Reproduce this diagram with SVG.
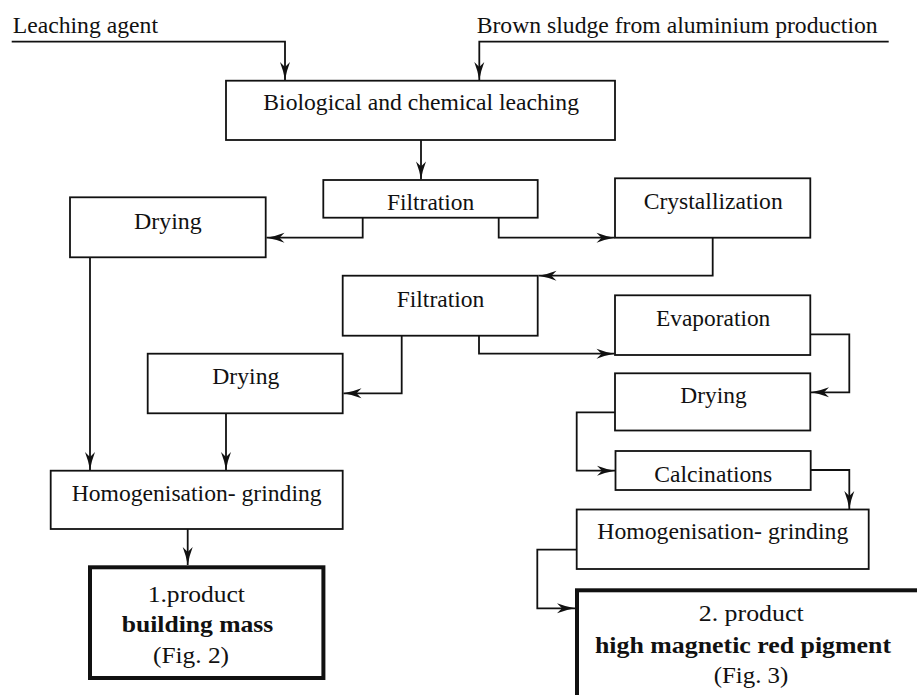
<svg xmlns="http://www.w3.org/2000/svg" width="917" height="695" viewBox="0 0 917 695" font-family="'Liberation Serif', 'Times New Roman', Times, serif">
<style>
.box{fill:#fff;stroke:#111;stroke-width:1.8}
.thick{fill:#fff;stroke:#111;stroke-width:4}
text{font-family:'Liberation Serif','Times New Roman',Times,serif;font-size:23px;fill:#111}
.b{font-weight:bold}
.c{fill:none;stroke:#111;stroke-width:1.8;marker-end:url(#arr)}
</style>
<defs>
<marker id="arr" viewBox="-20 -6 21 12" refX="0" refY="0" markerWidth="21" markerHeight="12" markerUnits="userSpaceOnUse" orient="auto">
<path d="M0,0 Q-9,-1.5 -18,-5 L-13,0 L-18,5 Q-9,1.5 0,0Z" fill="#111"/>
</marker>
</defs>
<rect width="917" height="695" fill="#fff"/>
<g id="inputs">
<text x="12.7" y="33" textLength="145.3" lengthAdjust="spacingAndGlyphs">Leaching agent</text>
<text x="476.7" y="33" textLength="401" lengthAdjust="spacingAndGlyphs">Brown sludge from aluminium production</text>
</g>
<g id="connectors">
<path class="c" d="M11.7,41.7 H285 V80"/>
<path class="c" d="M888.7,41.7 H479.3 V80"/>
<path class="c" d="M421,140 V179.5"/>
<path class="c" d="M362.7,217.7 V237.7 H266.5"/>
<path class="c" d="M498.7,217.7 V237.7 H614.5"/>
<path class="c" d="M712.7,237.7 V275.7 H538.5"/>
<path class="c" d="M90,257.3 V470"/>
<path class="c" d="M401.7,335.7 V393.3 H343.5"/>
<path class="c" d="M479,335.7 V353.7 H614.5"/>
<path class="c" d="M226,413.3 V470"/>
<path class="c" d="M810.3,334.3 H849.3 V392.3 H811"/>
<path class="c" d="M615,412.3 H576.7 V470.7 H615"/>
<path class="c" d="M810.7,470 H849.3 V509"/>
<path class="c" d="M187.7,529 V565"/>
<path class="c" d="M576.7,549.7 H537.3 V608.3 H575"/>
</g>
<g id="leaching">
<rect class="box" x="226" y="80.7" width="389" height="59.3"/>
<text x="263.3" y="110" textLength="315.7" lengthAdjust="spacingAndGlyphs">Biological and chemical leaching</text>
</g>
<g id="filtration1">
<rect class="box" x="323.3" y="180" width="214.4" height="37.7"/>
<text x="387" y="209.5" textLength="87.3" lengthAdjust="spacingAndGlyphs">Filtration</text>
</g>
<g id="crystallization">
<rect class="box" x="615" y="178.3" width="195.3" height="59.4"/>
<text x="643.7" y="209" textLength="139" lengthAdjust="spacingAndGlyphs">Crystallization</text>
</g>
<g id="drying1">
<rect class="box" x="70" y="197.3" width="195.7" height="60"/>
<text x="134" y="229" textLength="67.7" lengthAdjust="spacingAndGlyphs">Drying</text>
</g>
<g id="filtration2">
<rect class="box" x="342.7" y="275.7" width="195" height="60"/>
<text x="396.7" y="306.7" textLength="87.6" lengthAdjust="spacingAndGlyphs">Filtration</text>
</g>
<g id="evaporation">
<rect class="box" x="615" y="295.3" width="195.3" height="59.7"/>
<text x="656" y="326" textLength="114.3" lengthAdjust="spacingAndGlyphs">Evaporation</text>
</g>
<g id="drying2">
<rect class="box" x="147.7" y="353.7" width="195" height="59.6"/>
<text x="212.3" y="384" textLength="67" lengthAdjust="spacingAndGlyphs">Drying</text>
</g>
<g id="drying3">
<rect class="box" x="615" y="373.3" width="195.3" height="57.2"/>
<text x="680.3" y="403" textLength="66.4" lengthAdjust="spacingAndGlyphs">Drying</text>
</g>
<g id="calcinations">
<rect class="box" x="615.5" y="451" width="195.2" height="39"/>
<text x="654.3" y="481.7" textLength="118" lengthAdjust="spacingAndGlyphs">Calcinations</text>
</g>
<g id="homogenisation1">
<rect class="box" x="50.7" y="470.7" width="292" height="58.3"/>
<text x="71.7" y="501" textLength="249.9" lengthAdjust="spacingAndGlyphs">Homogenisation- grinding</text>
</g>
<g id="homogenisation2">
<rect class="box" x="576.7" y="509.5" width="292" height="59.5"/>
<text x="597.3" y="539.3" textLength="251" lengthAdjust="spacingAndGlyphs">Homogenisation- grinding</text>
</g>
<g id="product1">
<rect class="thick" x="90" y="567.3" width="233.4" height="110.7"/>
<text x="147.7" y="601.7" textLength="97.3" lengthAdjust="spacingAndGlyphs">1.product</text>
<text class="b" x="121.7" y="631.7" textLength="151.6" lengthAdjust="spacingAndGlyphs">building mass</text>
<text x="153" y="663" textLength="76" lengthAdjust="spacingAndGlyphs">(Fig. 2)</text>
</g>
<g id="product2">
<rect class="thick" x="577" y="590.3" width="360" height="130"/>
<text x="698.7" y="621" textLength="105" lengthAdjust="spacingAndGlyphs">2. product</text>
<text class="b" x="595" y="653" textLength="296" lengthAdjust="spacingAndGlyphs">high magnetic red pigment</text>
<text x="713.7" y="683" textLength="74.6" lengthAdjust="spacingAndGlyphs">(Fig. 3)</text>
</g>
</svg>
